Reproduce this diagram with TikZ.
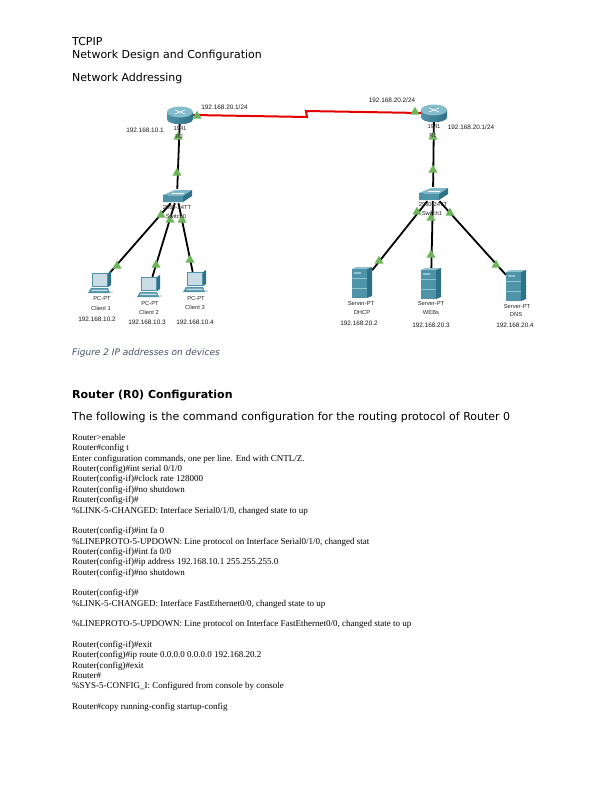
\documentclass[tikz,border=0pt]{standalone}
\usepackage{fontspec}
\setmainfont{Liberation Serif}
\newfontfamily\headfont{DejaVu Sans}
\newfontfamily\labelfont{Liberation Sans}
\usetikzlibrary{shapes.geometric, positioning}
\definecolor{teal1}{HTML}{4F93A8}
\definecolor{teal2}{HTML}{2F7186}
\definecolor{teal3}{HTML}{8FC3D2}
\definecolor{screenblue}{HTML}{C9DCE6}
\definecolor{uptri}{HTML}{6DB55A}
\definecolor{captionblue}{HTML}{44546A}
\tikzset{
	heading/.style={anchor=mid west, inner sep=0pt, yshift=-1.5pt, font=\headfont\fontsize{11}{13}\selectfont},
	cmdline/.style={anchor=mid west, inner sep=0pt, yshift=-.6pt, font=\fontsize{9}{10}\selectfont},
	devlabel/.style={inner sep=0pt, text=black!85, font=\labelfont\fontsize{5.8}{6}\selectfont},
	iplabel/.style={inner sep=0pt, text=black!90, font=\labelfont\fontsize{6.4}{7}\selectfont},
	devbox/.style={inner sep=0pt, minimum width=#1},
	wire/.style={line width=1.8pt, black},
	serialwire/.style={line width=2pt, red!90!black},
	uplink/.style={regular polygon, regular polygon sides=3, fill=uptri, inner sep=0pt, minimum size=10.5pt},
	pics/router/.style={code={
		\shade[left color=teal1, middle color=teal3, right color=teal2] (-13,-3) -- (-13,4) .. controls (-13,11) and (13,11) .. (13,4) -- (13,-3) -- cycle;
		\fill[teal3!85!teal1] (0,-3) ellipse [x radius=13, y radius=5.5];
		\draw[white, line width=.6pt] (-5,-5) -- (5,-1) (5,-5) -- (-5,-1);
	}},
	pics/switchbox/.style={code={
		\fill[teal3!80!teal1] (-14,-1) -- (-2,-6) -- (15,-6) -- (6,0) -- cycle;
		\fill[teal1] (-14,-1) -- (6,0) -- (6,6) -- (-14,6) -- cycle;
		\fill[teal2] (6,0) -- (15,-6) -- (15,0) -- (6,6) -- cycle;
		\draw[white, line width=.4pt] (-5,-3) -- (7,-3);
	}},
	pics/pcbox/.style={code={
		\fill[teal1] (-8,-11) -- (8,-11) -- (8,3) -- (-8,3) -- cycle;
		\fill[teal2] (8,-11) -- (11,-13) -- (11,1) -- (8,3) -- cycle;
		\fill[screenblue] (-6.8,-9.8) rectangle (6.8,2);
		\fill[teal1] (-9,4) -- (8,4) -- (10,9) -- (-12,9) -- cycle;
		\fill[screenblue] (-8,5.5) -- (7,5.5) -- (8,7) -- (-9,7) -- cycle;
		\fill[black!15] (10,7) rectangle (13,9);
	}},
	pics/serverbox/.style={code={
		\fill[teal3] (-10,-14) -- (-6,-16) -- (10,-16) -- (5,-14) -- cycle;
		\fill[teal1] (-10,-14) rectangle (5,15);
		\fill[teal2] (5,-14) -- (10,-16) -- (10,13) -- (5,15) -- cycle;
		\fill[teal3] (-8,-11) rectangle (-1,-9);
		\draw[teal3, line width=.3pt] (-10,-5) -- (5,-5) (-10,5) -- (5,5);
	}},
}
\begin{document}
\begin{tikzpicture}[x=1pt, y=-1pt]
	\useasboundingbox (0, 0) rectangle (612, 792);
	\fill[white] (0, 0) rectangle (612, 792);
	% page text above the topology
	\node[heading] (title) at (72, 42) {TCPIP};
	\node[heading] (subtitle) at (72, 55) {Network Design and Configuration};
	\node[heading] (addressing) at (72, 78) {Network Addressing};
	% devices
	\node[devbox=26pt, minimum height=18pt] (R0) at (180, 115) {};
	\node[devbox=26pt, minimum height=18pt] (R1) at (434, 113) {};
	\node[devbox=30pt, minimum height=14pt] (SW0) at (177, 196) {};
	\node[devbox=30pt, minimum height=14pt] (SW1) at (433, 194) {};
	\node[devbox=24pt, minimum height=22pt] (client1) at (100, 284) {};
	\node[devbox=24pt, minimum height=22pt] (client2) at (149, 288) {};
	\node[devbox=24pt, minimum height=22pt] (client3) at (195, 283) {};
	\node[devbox=20pt, minimum height=31pt] (dhcp) at (362, 283) {};
	\node[devbox=20pt, minimum height=31pt] (webs) at (431, 284) {};
	\node[devbox=20pt, minimum height=31pt] (dns) at (516, 286) {};
	\coordinate (zigA) at (307, 117);
	\coordinate (zigB) at (306, 111);
	% connectors
	\draw[serialwire] (R0.east) -- (zigA) -- (zigB) -- (R1.west);
	\draw[wire] (R0) -- (SW0);
	\draw[wire] (R1) -- (SW1);
	\draw[wire] (SW0) -- (client1);
	\draw[wire] (SW0) -- (client2);
	\draw[wire] (SW0) -- (client3);
	\draw[wire] (SW1) -- (dhcp);
	\draw[wire] (SW1) -- (webs);
	\draw[wire] (SW1) -- (dns);
	\pic at (R0) {router};
	\pic at (R1) {router};
	\pic at (SW0) {switchbox};
	\pic at (SW1) {switchbox};
	\pic at (client1) {pcbox};
	\pic at (client2) {pcbox};
	\pic at (client3) {pcbox};
	\pic at (dhcp) {serverbox};
	\pic at (webs) {serverbox};
	\pic at (dns) {serverbox};
	% link lights
	\node[uplink] (t1) at (197, 116) {};
	\node[uplink] (t2) at (415, 112) {};
	\node[uplink] (t3) at (178, 137) {};
	\node[uplink] (t4) at (177, 173) {};
	\node[uplink] (t5) at (433, 137) {};
	\node[uplink] (t6) at (433, 170) {};
	\node[uplink] (t7) at (161, 215) {};
	\node[uplink] (t8) at (170, 220) {};
	\node[uplink] (t9) at (182, 220) {};
	\node[uplink] (t10) at (117, 266) {};
	\node[uplink] (t11) at (156, 265) {};
	\node[uplink] (t12) at (190, 260) {};
	\node[uplink] (t13) at (417, 212) {};
	\node[uplink] (t14) at (431, 218) {};
	\node[uplink] (t15) at (450, 213) {};
	\node[uplink] (t16) at (379, 261) {};
	\node[uplink] (t17) at (431, 255) {};
	\node[uplink] (t18) at (496, 265) {};
	% device labels
	\node[devlabel] (lblR0) at (180, 129) {1941};
	\node[devlabel] (nameR0) at (179, 137) {R0};
	\node[devlabel] (lblR1) at (434, 127) {1941};
	\node[devlabel] (nameR1) at (433, 136) {R1};
	\node[devlabel] (lblSW0) at (177, 208) {2960-24TT};
	\node[devlabel] (nameSW0) at (176, 216) {Switch0};
	\node[devlabel] (lblSW1) at (433, 205) {2960-24TT};
	\node[devlabel] (nameSW1) at (432, 213) {Switch1};
	\node[devlabel] (lblC1) at (102, 299) {PC-PT};
	\node[devlabel] (nameC1) at (101, 308) {Client 1};
	\node[devlabel] (lblC2) at (150, 304) {PC-PT};
	\node[devlabel] (nameC2) at (149, 312) {Client 2};
	\node[devlabel] (lblC3) at (196, 298) {PC-PT};
	\node[devlabel] (nameC3) at (195, 307) {Client 3};
	\node[devlabel] (lblS1) at (361, 304) {Server-PT};
	\node[devlabel] (nameS1) at (362, 312) {DHCP};
	\node[devlabel] (lblS2) at (431, 304) {Server-PT};
	\node[devlabel] (nameS2) at (431, 313) {WEBs};
	\node[devlabel] (lblS3) at (517, 306) {Server-PT};
	\node[devlabel] (nameS3) at (516, 315) {DNS};
	% addresses
	\node[iplabel] (ipR0a) at (224.5, 107) {192.168.20.1/24};
	\node[iplabel] (ipR0b) at (145, 130) {192.168.10.1};
	\node[iplabel] (ipR1a) at (392, 100) {192.168.20.2/24};
	\node[iplabel] (ipR1b) at (471, 127) {192.168.20.1/24};
	\node[iplabel] (ipC1) at (97, 319) {192.168.10.2};
	\node[iplabel] (ipC2) at (147, 322) {192.168.10.3};
	\node[iplabel] (ipC3) at (195, 322) {192.168.10.4};
	\node[iplabel] (ipS1) at (359, 323) {192.168.20.2};
	\node[iplabel] (ipS2) at (431, 325) {192.168.20.3};
	\node[iplabel] (ipS3) at (515, 325) {192.168.20.4};
	% page text below the topology
	\node[anchor=mid west, inner sep=0pt, yshift=-.8pt, text=captionblue, font=\headfont\itshape\fontsize{9}{10}\selectfont] (caption) at (72, 352) {Figure 2 IP addresses on devices};
	\node[heading, font=\headfont\bfseries\fontsize{11}{13}\selectfont] (section) at (72, 395) {Router (R0) Configuration};
	\node[heading] (intro) at (72, 417) {The following is the command configuration for the routing protocol of Router 0};
	\node[cmdline] (c1) at (72, 438) {Router>enable};
	\node[cmdline] (c2) at (72, 448) {Router\#config t};
	\node[cmdline] (c3) at (72, 459) {Enter configuration commands, one per line. End with CNTL/Z.};
	\node[cmdline] (c4) at (72, 469) {Router(config)\#int serial 0/1/0};
	\node[cmdline] (c5) at (72, 479) {Router(config-if)\#clock rate 128000};
	\node[cmdline] (c6) at (72, 490) {Router(config-if)\#no shutdown};
	\node[cmdline] (c7) at (72, 500) {Router(config-if)\#};
	\node[cmdline] (c8) at (72, 511) {\%LINK-5-CHANGED: Interface Serial0/1/0, changed state to up};
	\node[cmdline] (c9) at (72, 531) {Router(config-if)\#int fa 0};
	\node[cmdline] (c10) at (72, 542) {\%LINEPROTO-5-UPDOWN: Line protocol on Interface Serial0/1/0, changed stat};
	\node[cmdline] (c11) at (72, 552) {Router(config-if)\#int fa 0/0};
	\node[cmdline] (c12) at (72, 562) {Router(config-if)\#ip address 192.168.10.1 255.255.255.0};
	\node[cmdline] (c13) at (72, 573) {Router(config-if)\#no shutdown};
	\node[cmdline] (c14) at (72, 593) {Router(config-if)\#};
	\node[cmdline] (c15) at (72, 604) {\%LINK-5-CHANGED: Interface FastEthernet0/0, changed state to up};
	\node[cmdline] (c16) at (72, 624) {\%LINEPROTO-5-UPDOWN: Line protocol on Interface FastEthernet0/0, changed state to up};
	\node[cmdline] (c17) at (72, 645) {Router(config-if)\#exit};
	\node[cmdline] (c18) at (72, 655) {Router(config)\#ip route 0.0.0.0 0.0.0.0 192.168.20.2};
	\node[cmdline] (c19) at (72, 666) {Router(config)\#exit};
	\node[cmdline] (c20) at (72, 676) {Router\#};
	\node[cmdline] (c21) at (72, 686) {\%SYS-5-CONFIG\_I: Configured from console by console};
	\node[cmdline] (c22) at (72, 707) {Router\#copy running-config startup-config};
\end{tikzpicture}
\end{document}
